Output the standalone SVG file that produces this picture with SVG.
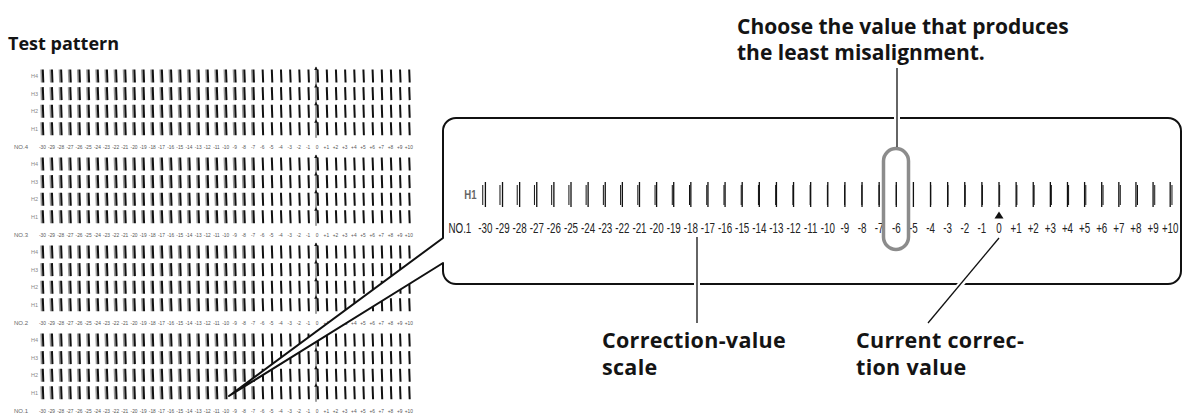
<svg xmlns="http://www.w3.org/2000/svg" xmlns:xlink="http://www.w3.org/1999/xlink" width="1185" height="419" viewBox="0 0 1185 419">
<style>
  .head { font-family: "Open Sans", "Noto Sans", "Liberation Sans", sans-serif; font-weight: bold; fill: #141414; }
  .sl { font-family: "Liberation Sans", Arial, sans-serif; font-size: 6px; fill: #555; text-anchor: middle; }
  .sh { font-family: "Liberation Sans", Arial, sans-serif; font-size: 5.5px; fill: #888; text-anchor: middle; }
  .sn { font-family: "Liberation Sans", Arial, sans-serif; font-size: 6px; fill: #666; text-anchor: middle; }
  .bl { font-family: "Liberation Sans", Arial, sans-serif; font-size: 14px; fill: #222; text-anchor: middle; }
  .bh { font-family: "Liberation Sans", Arial, sans-serif; font-size: 12px; font-weight: bold; fill: #666; text-anchor: middle; }
  .frame { fill: #fff; stroke: #111; stroke-width: 2; stroke-linejoin: round; }
  .mk { fill: none; stroke: #111; stroke-width: 2; }
  .mkg { fill: none; stroke: #999; stroke-width: 1.6; }
  .halo { stroke: #fff; stroke-width: 6; fill: none; }
  .lead { stroke: #111; stroke-width: 1.3; fill: none; }
</style>
<defs>
  <g id="srow">
    <path class="mkg" d="M41.1,-6.5 l0.5,13 m8.66,-13 l0.5,13 m8.66,-13 l0.5,13 m8.66,-13 l0.5,13 m8.66,-13 l0.5,13 m8.66,-13 l0.5,13 m8.66,-13 l0.5,13 m8.66,-13 l0.5,13 m8.66,-13 l0.5,13 m8.66,-13 l0.5,13 m8.66,-13 l0.5,13 m8.66,-13 l0.5,13 m8.66,-13 l0.5,13 m8.66,-13 l0.5,13 m8.66,-13 l0.5,13 m8.66,-13 l0.5,13 m8.66,-13 l0.5,13 m8.66,-13 l0.5,13 m8.66,-13 l0.5,13 m8.66,-13 l0.5,13 m8.66,-13 l0.5,13 m8.66,-13 l0.5,13 m8.66,-13 l0.5,13 m8.66,-13 l0.5,13"/>
    <path class="mk" d="M42.8,-6.5 l0.5,13 m8.66,-13 l0.5,13 m8.66,-13 l0.5,13 m8.66,-13 l0.5,13 m8.66,-13 l0.5,13 m8.66,-13 l0.5,13 m8.66,-13 l0.5,13 m8.66,-13 l0.5,13 m8.66,-13 l0.5,13 m8.66,-13 l0.5,13 m8.66,-13 l0.5,13 m8.66,-13 l0.5,13 m8.66,-13 l0.5,13 m8.66,-13 l0.5,13 m8.66,-13 l0.5,13 m8.66,-13 l0.5,13 m8.66,-13 l0.5,13 m8.66,-13 l0.5,13 m8.66,-13 l0.5,13 m8.66,-13 l0.5,13 m8.66,-13 l0.5,13 m8.66,-13 l0.5,13 m8.66,-13 l0.5,13 m8.66,-13 l0.5,13 m8.66,-13 l0.5,13 m8.66,-13 l0.5,13 m8.66,-13 l0.5,13 m8.66,-13 l0.5,13 m8.66,-13 l0.5,13 m8.66,-13 l0.5,13 m8.66,-13 l0.5,13 m8.66,-13 l0.5,13 m8.66,-13 l0.5,13 m8.66,-13 l0.5,13 m8.66,-13 l0.5,13 m8.66,-13 l0.5,13 m8.66,-13 l0.5,13 m8.66,-13 l0.5,13 m8.66,-13 l0.5,13 m8.66,-13 l0.5,13 m8.66,-13 l0.5,13"/>
    <line x1="316" y1="-9" x2="316" y2="9" stroke="#111" stroke-width="0.8"/>
    <polygon points="314.2,-6 317.8,-6 316,-9.5" fill="#111"/>
  </g>
  <g id="slab" transform="scale(0.8,1)">
    <text class="sl" x="53" y="2.2">-30</text><text class="sl" x="64.45" y="2.2">-29</text><text class="sl" x="75.9" y="2.2">-28</text><text class="sl" x="87.35" y="2.2">-27</text><text class="sl" x="98.8" y="2.2">-26</text><text class="sl" x="110.25" y="2.2">-25</text><text class="sl" x="121.7" y="2.2">-24</text><text class="sl" x="133.15" y="2.2">-23</text><text class="sl" x="144.6" y="2.2">-22</text><text class="sl" x="156.05" y="2.2">-21</text><text class="sl" x="167.5" y="2.2">-20</text><text class="sl" x="178.95" y="2.2">-19</text><text class="sl" x="190.4" y="2.2">-18</text><text class="sl" x="201.85" y="2.2">-17</text><text class="sl" x="213.3" y="2.2">-16</text><text class="sl" x="224.75" y="2.2">-15</text><text class="sl" x="236.2" y="2.2">-14</text><text class="sl" x="247.65" y="2.2">-13</text><text class="sl" x="259.1" y="2.2">-12</text><text class="sl" x="270.55" y="2.2">-11</text><text class="sl" x="282" y="2.2">-10</text><text class="sl" x="293.45" y="2.2">-9</text><text class="sl" x="304.9" y="2.2">-8</text><text class="sl" x="316.35" y="2.2">-7</text><text class="sl" x="327.8" y="2.2">-6</text><text class="sl" x="339.25" y="2.2">-5</text><text class="sl" x="350.7" y="2.2">-4</text><text class="sl" x="362.15" y="2.2">-3</text><text class="sl" x="373.6" y="2.2">-2</text><text class="sl" x="385.05" y="2.2">-1</text><text class="sl" x="396.5" y="2.2">0</text><text class="sl" x="407.95" y="2.2">+1</text><text class="sl" x="419.4" y="2.2">+2</text><text class="sl" x="430.85" y="2.2">+3</text><text class="sl" x="442.3" y="2.2">+4</text><text class="sl" x="453.75" y="2.2">+5</text><text class="sl" x="465.2" y="2.2">+6</text><text class="sl" x="476.65" y="2.2">+7</text><text class="sl" x="488.1" y="2.2">+8</text><text class="sl" x="499.55" y="2.2">+9</text><text class="sl" x="511" y="2.2">+10</text>
  </g>
</defs>

<g id="title-test-pattern">
  <text class="head" x="8" y="50" font-size="18">Test pattern</text>
</g>

<g id="test-pattern">
  <g id="block-no4">
    <use xlink:href="#srow" href="#srow" y="76"/><use xlink:href="#srow" href="#srow" y="93.6"/><use xlink:href="#srow" href="#srow" y="111.2"/><use xlink:href="#srow" href="#srow" y="128.8"/>
    <use xlink:href="#slab" href="#slab" y="146.4"/>
    <text class="sh" x="34.5" y="78">H4</text><text class="sh" x="34.5" y="95.6">H3</text><text class="sh" x="34.5" y="113.2">H2</text><text class="sh" x="34.5" y="130.8">H1</text>
    <text class="sn" x="21" y="148.6">NO.4</text>
  </g>
  <g id="block-no3">
    <use xlink:href="#srow" href="#srow" y="164"/><use xlink:href="#srow" href="#srow" y="181.6"/><use xlink:href="#srow" href="#srow" y="199.2"/><use xlink:href="#srow" href="#srow" y="216.8"/>
    <use xlink:href="#slab" href="#slab" y="234.4"/>
    <text class="sh" x="34.5" y="166">H4</text><text class="sh" x="34.5" y="183.6">H3</text><text class="sh" x="34.5" y="201.2">H2</text><text class="sh" x="34.5" y="218.8">H1</text>
    <text class="sn" x="21" y="236.6">NO.3</text>
  </g>
  <g id="block-no2">
    <use xlink:href="#srow" href="#srow" y="252"/><use xlink:href="#srow" href="#srow" y="269.6"/><use xlink:href="#srow" href="#srow" y="287.2"/><use xlink:href="#srow" href="#srow" y="304.8"/>
    <use xlink:href="#slab" href="#slab" y="322.4"/>
    <text class="sh" x="34.5" y="254">H4</text><text class="sh" x="34.5" y="271.6">H3</text><text class="sh" x="34.5" y="289.2">H2</text><text class="sh" x="34.5" y="306.8">H1</text>
    <text class="sn" x="21" y="324.6">NO.2</text>
  </g>
  <g id="block-no1">
    <use xlink:href="#srow" href="#srow" y="340"/><use xlink:href="#srow" href="#srow" y="357.6"/><use xlink:href="#srow" href="#srow" y="375.2"/><use xlink:href="#srow" href="#srow" y="392.8"/>
    <use xlink:href="#slab" href="#slab" y="410.4"/>
    <text class="sh" x="34.5" y="342">H4</text><text class="sh" x="34.5" y="359.6">H3</text><text class="sh" x="34.5" y="377.2">H2</text><text class="sh" x="34.5" y="394.8">H1</text>
    <text class="sn" x="21" y="412.6">NO.1</text>
  </g>
</g>

<g id="callout">
  <path class="frame" d="M443,238 L443,131 A13,13 0 0 1 456,118 L1168,118 A13,13 0 0 1 1181,131 L1181,271 A13,13 0 0 1 1168,284 L456,284 A13,13 0 0 1 443,271 L443,263 L229,396 Z"/>
</g>

<g id="scale-H1">
  <path fill="none" stroke="#111" stroke-width="1.3" d="M485.4,182 v25 m17.12,-25 v25 m17.12,-25 v25 m17.12,-25 v25 m17.12,-25 v25 m17.12,-25 v25 m17.12,-25 v25 m17.12,-25 v25 m17.12,-25 v25 m17.12,-25 v25 m17.12,-25 v25 m17.12,-25 v25 m17.12,-25 v25 m17.12,-25 v25 m17.12,-25 v25 m17.12,-25 v25 m17.12,-25 v25 m17.12,-25 v25 m17.12,-25 v25 m17.12,-25 v25 m17.12,-25 v25 m17.12,-25 v25 m17.12,-25 v25 m17.12,-25 v25 m17.12,-25 v25 m17.12,-25 v25 m17.12,-25 v25 m17.12,-25 v25 m17.12,-25 v25 m17.12,-25 v25 m17.12,-25 v25 m17.12,-25 v25 m17.12,-25 v25 m17.12,-25 v25 m17.12,-25 v25 m17.12,-25 v25 m17.12,-25 v25 m17.12,-25 v25 m17.12,-25 v25 m17.12,-25 v25 m17.12,-25 v25"/>
  <path fill="none" stroke="#111" stroke-width="1" d="M482.76,185 v20 m17.23,-20 v20 m17.23,-20 v20 m17.23,-20 v20 m17.23,-20 v20 m17.23,-20 v20 m17.23,-20 v20 m17.23,-20 v20 m17.23,-20 v20 m17.23,-20 v20 m17.23,-20 v20 m17.23,-20 v20 m17.23,-20 v20 m17.23,-20 v20 m17.23,-20 v20 m17.23,-20 v20 m17.23,-20 v20 m17.23,-20 v20 m17.23,-20 v20 m17.23,-20 v20 m17.23,-20 v20 m17.23,-20 v20 m17.23,-20 v20 m17.23,-20 v20 m17.23,-20 v20 m17.23,-20 v20 m17.23,-20 v20 m17.23,-20 v20 m17.23,-20 v20 m17.23,-20 v20 m17.23,-20 v20 m17.23,-20 v20 m17.23,-20 v20 m17.23,-20 v20 m17.23,-20 v20 m17.23,-20 v20 m17.23,-20 v20 m17.23,-20 v20 m17.23,-20 v20 m17.23,-20 v20 m17.23,-20 v20"/>
  <g transform="translate(0,199) scale(0.8,1)">
    <text class="bh" x="588" y="0">H1</text>
  </g>
  <g transform="translate(0,233) scale(0.7,1)">
    <text class="bl" x="657" y="0">NO.1</text>
    <text class="bl" x="693.43" y="0">-30</text><text class="bl" x="717.89" y="0">-29</text><text class="bl" x="742.34" y="0">-28</text><text class="bl" x="766.8" y="0">-27</text><text class="bl" x="791.26" y="0">-26</text><text class="bl" x="815.71" y="0">-25</text><text class="bl" x="840.17" y="0">-24</text><text class="bl" x="864.63" y="0">-23</text><text class="bl" x="889.09" y="0">-22</text><text class="bl" x="913.54" y="0">-21</text><text class="bl" x="938" y="0">-20</text><text class="bl" x="962.46" y="0">-19</text><text class="bl" x="986.91" y="0">-18</text><text class="bl" x="1011.37" y="0">-17</text><text class="bl" x="1035.83" y="0">-16</text><text class="bl" x="1060.29" y="0">-15</text><text class="bl" x="1084.74" y="0">-14</text><text class="bl" x="1109.2" y="0">-13</text><text class="bl" x="1133.66" y="0">-12</text><text class="bl" x="1158.11" y="0">-11</text><text class="bl" x="1182.57" y="0">-10</text><text class="bl" x="1207.03" y="0">-9</text><text class="bl" x="1231.49" y="0">-8</text><text class="bl" x="1255.94" y="0">-7</text><text class="bl" x="1280.4" y="0">-6</text><text class="bl" x="1304.86" y="0">-5</text><text class="bl" x="1329.31" y="0">-4</text><text class="bl" x="1353.77" y="0">-3</text><text class="bl" x="1378.23" y="0">-2</text><text class="bl" x="1402.69" y="0">-1</text><text class="bl" x="1427.14" y="0">0</text><text class="bl" x="1451.6" y="0">+1</text><text class="bl" x="1476.06" y="0">+2</text><text class="bl" x="1500.51" y="0">+3</text><text class="bl" x="1524.97" y="0">+4</text><text class="bl" x="1549.43" y="0">+5</text><text class="bl" x="1573.89" y="0">+6</text><text class="bl" x="1598.34" y="0">+7</text><text class="bl" x="1622.8" y="0">+8</text><text class="bl" x="1647.26" y="0">+9</text><text class="bl" x="1671.71" y="0">+10</text>
  </g>
  <polygon id="current-marker" points="994.5,218.5 1003.5,218.5 999,211.5" fill="#111"/>
</g>

<g id="best-value-marker">
  <rect x="883.5" y="148.5" width="25" height="101" rx="12.5" ry="12.5" fill="none" stroke="#8c8c8c" stroke-width="3.5"/>
</g>

<g id="connectors">
  <line class="halo" x1="897" y1="68" x2="897" y2="146"/>
  <line class="lead" x1="897" y1="68" x2="897" y2="147"/>
  <line class="halo" x1="697" y1="238" x2="697" y2="322"/>
  <line class="lead" x1="697" y1="237" x2="697" y2="323"/>
  <line class="halo" x1="998" y1="240" x2="929" y2="322"/>
  <line class="lead" x1="999" y1="238" x2="928" y2="323"/>
</g>

<g id="label-choose">
  <text class="head" font-size="21"><tspan x="737" y="34">Choose the value that produces</tspan><tspan x="737" y="60">the least misalignment.</tspan></text>
</g>
<g id="label-scale">
  <text class="head" font-size="21.5" letter-spacing="0.3"><tspan x="602" y="347.5">Correction-value</tspan><tspan x="602" y="374.5">scale</tspan></text>
</g>
<g id="label-current">
  <text class="head" font-size="21.5" letter-spacing="0.3"><tspan x="856" y="347.5">Current correc-</tspan><tspan x="856" y="374.5">tion value</tspan></text>
</g>
</svg>
